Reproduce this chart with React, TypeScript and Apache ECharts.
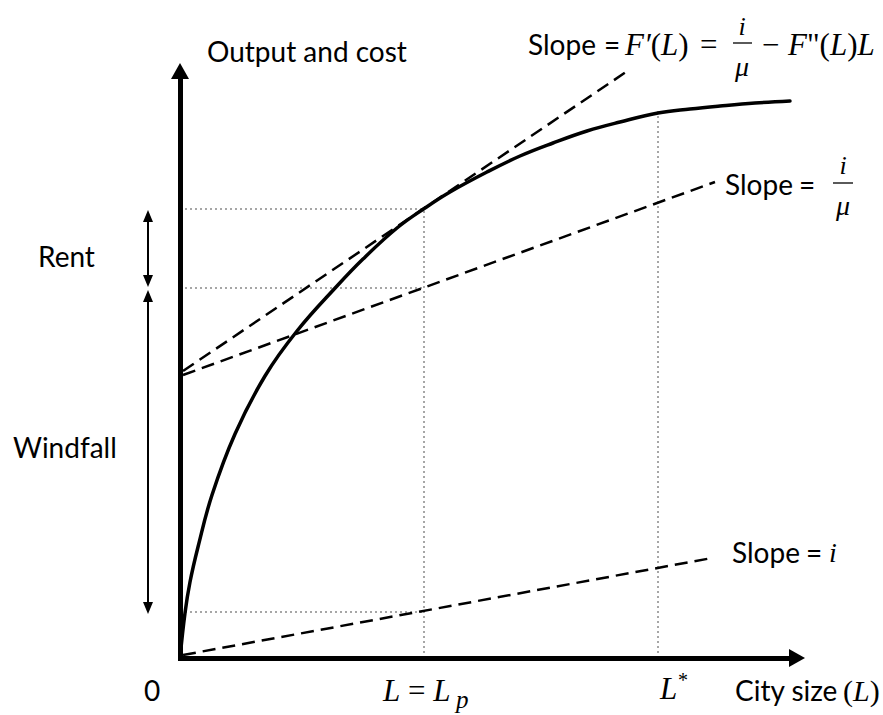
import React, { useEffect, useRef } from "react";
import * as echarts from "echarts";

// City size L (x) and output F(L) (y), in chart units
const curveL = [0, 5, 10, 18, 32, 55, 85, 117, 157, 183, 217, 245, 270, 307, 340, 373, 407, 440, 478, 510, 540, 575, 610];
const curveOutput = [0, 45, 76, 111, 163, 224, 282, 327, 372, 399, 430, 450, 466, 486, 502, 515, 527, 536, 545, 549, 552, 555, 557];

const tangentL = [3, 446];
const tangentY = [287, 586];
const iOverMuL = [3, 535];
const iOverMuY = [283, 476];
const iLineL = [3, 532];
const iLineY = [3, 100];

const Lp = 244;
const Lstar = 478;
const outputAtLp = 449;
const costAtLpIMu = 370;
const costAtLpI = 46;
const outputAtLstar = 548;

const axisEnds = { x: 617, y: 587 };
const rentArrow = [442, 377];
const windfallArrow = [362, 50];
const annotationL = -32;

const SANS = "Lato";
const SERIF = "Liberation Serif";

function pts(xs: any[], ys: any[]) {
  return xs.map((x, i) => [x, ys[i]]);
}

export default function App() {
  const ref = useRef<HTMLDivElement>(null);
  useEffect(() => {
    if (!ref.current) return;
    const chart = echarts.init(ref.current, null, { renderer: "svg" });
    const dashed = (name: string, xs: number[], ys: number[]) => ({
      type: "line",
      name,
      data: pts(xs, ys),
      symbol: "none",
      silent: true,
      lineStyle: { color: "#000", width: 2.5, type: [13, 7] },
    });
    const guide = (xs: any[], ys: any[]) => ({
      type: "line",
      data: pts(xs, ys),
      symbol: "none",
      silent: true,
      lineStyle: { color: "#a6a6a6", width: 2, type: [2, 3] },
    });
    const arrowSeries = (
      segs: number[][][],
      width: number,
      symbol: string[],
      size: number[]
    ) => ({
      type: "line",
      data: [[0, 0]],
      symbol: "none",
      silent: true,
      lineStyle: { opacity: 0 },
      markLine: {
        silent: true,
        symbol,
        symbolSize: size,
        label: { show: false },
        lineStyle: { color: "#000", width, type: "solid", opacity: 1 },
        emphasis: { disabled: true },
        animation: false,
        data: segs.map((s) => [{ coord: s[0] }, { coord: s[1] }]),
      },
    });
    const txt = (
      text: string,
      x: number,
      y: number,
      size: number,
      family: string,
      italic = false,
      align = "left"
    ) => ({
      type: "text",
      x,
      y,
      silent: true,
      style: {
        text,
        fill: "#000",
        fontSize: size,
        fontFamily: family,
        fontStyle: italic ? "italic" : "normal",
        textAlign: align,
        textVerticalAlign: "middle",
      },
    });
    const math = (text: string, x: number, y: number, size: number) => ({
      type: "text",
      x,
      y,
      silent: true,
      style: {
        text,
        fill: "#000",
        fontSize: size,
        fontFamily: SERIF,
        textAlign: "left",
        textVerticalAlign: "middle",
        rich: {
          it: { fontStyle: "italic", fontSize: size, fontFamily: SERIF, fill: "#000" },
          up: { fontStyle: "normal", fontSize: size, fontFamily: SERIF, fill: "#000" },
        },
      },
    });
    const bar = (x1: number, x2: number, y: number) => ({
      type: "line",
      silent: true,
      shape: { x1, y1: y, x2, y2: y },
      style: { stroke: "#000", lineWidth: 1.3 },
    });

    chart.setOption({
      animation: false,
      grid: { left: 0, right: 0, top: 0, bottom: 0 },
      xAxis: { type: "value", min: -180, max: 703, show: false },
      yAxis: { type: "value", min: -57, max: 658, show: false },
      series: [
        guide([0, Lp, "-", 0, Lp, "-", 0, Lp], [outputAtLp, outputAtLp, "-", costAtLpIMu, costAtLpIMu, "-", costAtLpI, costAtLpI]),
        guide([Lp, Lp], [0, outputAtLp]),
        guide([Lstar, Lstar], [0, outputAtLstar]),
        dashed("tangent", tangentL, tangentY),
        dashed("iOverMu", iOverMuL, iOverMuY),
        dashed("i", iLineL, iLineY),
        {
          type: "line",
          name: "F(L)",
          data: pts(curveL, curveOutput),
          smooth: 0.4,
          symbol: "none",
          silent: true,
          lineStyle: { color: "#000", width: 3.5, cap: "round", join: "round" },
        },
        arrowSeries(
          [
            [[-2, 0], [axisEnds.x, 0]],
            [[0, -2], [0, axisEnds.y]],
          ],
          5,
          ["none", "triangle"],
          [18, 16]
        ),
        arrowSeries(
          [
            [[annotationL, rentArrow[0]], [annotationL, rentArrow[1]]],
            [[annotationL, windfallArrow[0]], [annotationL, windfallArrow[1]]],
          ],
          2,
          ["triangle", "triangle"],
          [10, 12]
        ),
      ],
      graphic: [
        txt("Output and cost", 207, 51, 28, SANS),
        txt("Rent", 38, 256, 28, SANS),
        txt("Windfall", 13, 447, 28, SANS),
        txt("0", 152, 690, 28, SANS, false, "center"),
        txt("City size", 735, 690, 28, SANS),
        math("{up|(}{it|L}{up|)}", 843, 690, 30),
        math("{it|L} {up|=} {it|L}", 383, 690, 31),
        txt("p", 456, 699, 25, SERIF, true),
        txt("L", 660, 688, 31, SERIF, true),
        txt("*", 678, 680, 20, SERIF),
        // top slope label
        txt("Slope", 528, 44, 28, SANS),
        txt("=", 604, 44, 28, SANS),
        math("{it|F\u2032}{up|(}{it|L}{up|)}", 625, 44, 31),
        txt("=", 700, 44, 31, SERIF),
        txt("i", 742, 26, 26, SERIF, true, "center"),
        bar(733, 752, 43),
        txt("\u03bc", 742, 66, 28, SERIF, true, "center"),
        txt("\u2212", 762, 44, 31, SERIF),
        math("{it|F}{up|\"(}{it|L}{up|)}{it|L}", 788, 44, 31),
        // middle slope label
        txt("Slope", 725, 184, 28, SANS),
        txt("=", 799, 184, 28, SANS),
        txt("i", 843, 165, 26, SERIF, true, "center"),
        bar(833, 853, 183),
        txt("\u03bc", 843, 205, 28, SERIF, true, "center"),
        // bottom slope label
        txt("Slope", 732, 552, 28, SANS),
        txt("=", 806, 552, 28, SANS),
        txt("i", 829, 552, 28, SERIF, true),
      ],
    });
    return () => chart.dispose();
  }, []);
  return (
    <div
      ref={ref}
      style={{ position: "fixed", left: 0, top: 0, width: 883, height: 715, background: "#fff" }}
    />
  );
}
